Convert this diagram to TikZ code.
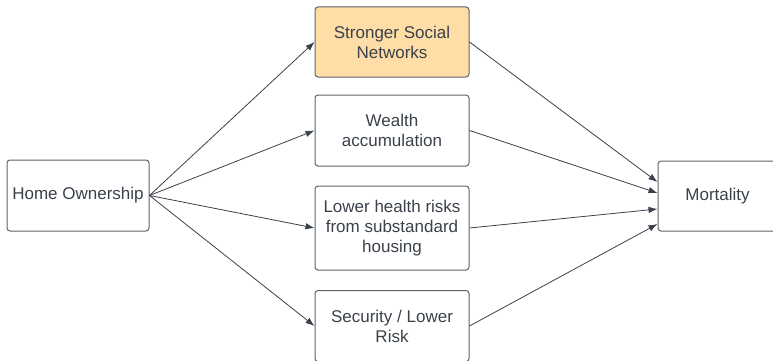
\documentclass[tikz,border=0pt]{standalone}
\usepackage{fontspec}
\setmainfont{Liberation Sans}
\usetikzlibrary{arrows.meta}
\definecolor{ink}{HTML}{3A414A}
\definecolor{edge}{HTML}{5E646C}
\definecolor{peach}{HTML}{FFDDA6}
\tikzset{
  box/.style={draw=edge, line width=1pt, rounded corners=3pt, align=center,
    text=ink, font=\fontsize{17}{20}\selectfont, inner sep=0pt},
  link/.style={draw=ink, line width=0.8pt, -{Latex[length=9pt,width=6.5pt]}}
}
\begin{document}
\begin{tikzpicture}[x=1pt,y=-1pt]
\useasboundingbox (0,0) rectangle (773,361);
\clip (0,0) rectangle (773,361);
\node[box, minimum width=142pt, minimum height=71pt] (home) at (78,195.5) {Home Ownership};
\node[box, fill=peach, minimum width=154pt, minimum height=70pt] (social) at (392,42) {Stronger Social\\Networks};
\node[box, minimum width=154pt, minimum height=71pt] (wealth) at (392,130.5) {Wealth\\accumulation};
\node[box, minimum width=154pt, minimum height=84pt] (health) at (392,228) {Lower health risks\\from substandard\\housing};
\node[box, minimum width=154pt, minimum height=71pt] (security) at (392,326) {Security / Lower\\Risk};
\node[box, minimum width=119pt, minimum height=70pt] (mort) at (717.5,196) {Mortality};
\draw[link] (home.east) -- (social.west);
\draw[link] (home.east) -- (wealth.west);
\draw[link] (home.east) -- (health.west);
\draw[link] (home.east) -- (security.west);
\draw[link] (social.east) -- ([yshift=14pt]mort.west);
\draw[link] (wealth.east) -- ([yshift=3pt]mort.west);
\draw[link] (health.east) -- ([yshift=-13pt]mort.west);
\draw[link] (security.east) -- ([yshift=-28pt]mort.west);
\end{tikzpicture}
\end{document}
